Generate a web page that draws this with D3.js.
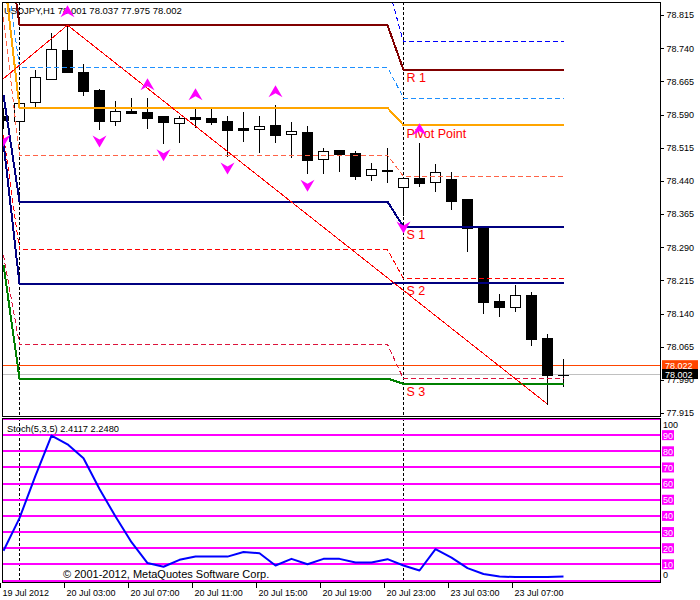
<!DOCTYPE html>
<html><head><meta charset="utf-8">
<script src="https://cdn.jsdelivr.net/npm/d3@7"></script>
<style>body{margin:0;background:#fff} text{font-family:"Liberation Sans",Arial,sans-serif}</style>
</head><body><svg id="c" width="700" height="600"></svg>
<script>
// ---------- DATA ----------
const times = ["19 Jul 23:00",
 "20 Jul 00:00","20 Jul 01:00","20 Jul 02:00","20 Jul 03:00","20 Jul 04:00","20 Jul 05:00","20 Jul 06:00","20 Jul 07:00",
 "20 Jul 08:00","20 Jul 09:00","20 Jul 10:00","20 Jul 11:00","20 Jul 12:00","20 Jul 13:00","20 Jul 14:00","20 Jul 15:00",
 "20 Jul 16:00","20 Jul 17:00","20 Jul 18:00","20 Jul 19:00","20 Jul 20:00","20 Jul 21:00","20 Jul 22:00","20 Jul 23:00",
 "23 Jul 00:00","23 Jul 01:00","23 Jul 02:00","23 Jul 03:00","23 Jul 04:00","23 Jul 05:00","23 Jul 06:00","23 Jul 07:00",
 "23 Jul 08:00","23 Jul 09:00","23 Jul 10:00"];
const open  = [78.587,78.576,78.619,78.671,78.736,78.686,78.645,78.576,78.599,78.596,78.587,78.571,78.584,78.581,78.575,78.559,78.558,78.566,78.545,78.550,78.489,78.510,78.502,78.453,78.465,78.426,78.446,78.437,78.444,78.399,78.333,78.168,78.154,78.182,78.085,78.001];
const high  = [78.605,78.623,78.691,78.774,78.792,78.704,78.648,78.621,78.627,78.627,78.587,78.587,78.604,78.602,78.587,78.595,78.587,78.611,78.574,78.564,78.514,78.510,78.507,78.480,78.514,78.446,78.525,78.478,78.461,78.400,78.335,78.184,78.204,78.189,78.094,78.037];
const low   = [78.559,78.555,78.608,78.671,78.685,78.635,78.557,78.566,78.593,78.560,78.526,78.528,78.562,78.568,78.496,78.531,78.505,78.528,78.495,78.457,78.458,78.463,78.444,78.443,78.438,78.363,78.428,78.416,78.376,78.282,78.142,78.135,78.146,78.069,77.935,77.975];
const close = [78.578,78.617,78.674,78.737,78.686,78.644,78.576,78.597,78.594,78.583,78.573,78.583,78.580,78.574,78.556,78.556,78.564,78.544,78.553,78.488,78.507,78.501,78.452,78.466,78.462,78.446,78.436,78.461,78.395,78.333,78.167,78.154,78.182,78.082,78.001,78.002];
const stoch = [18.4,38.6,65.0,89.7,84.3,75.7,56.7,39.6,23.7,10.8,8.5,12.8,14.8,14.8,14.8,17.6,16.9,9.3,13.4,10.1,13.4,13.4,11.1,11.1,13.2,9.3,6.2,19.4,14.2,7.7,4.0,2.5,2.1,2.1,2.1,2.4];

// daily pivot indicator levels (19 Jul, 20 Jul, 23 Jul)
const days = ["19 Jul","20 Jul","23 Jul"];
const levelR1     = [79.050,78.792,78.691];
const levelUpDash = [79.150,78.885,78.754];
const levelMidR   = [78.960,78.697,78.627];
const levelPivot  = [78.920,78.605,78.566];
const levelMidS   = [78.810,78.498,78.450];
const levelS1     = [78.634,78.393,78.336];
const levelRedDash= [78.544,78.284,78.219];
const levelS2     = [78.526,78.207,78.210];
const levelCrimDash=[78.272,78.070,77.992];
const levelS3     = [78.250,77.993,77.981];

const zigzagTimes = ["19 Jul 23:00","20 Jul 03:00","23 Jul 09:00"];
const zigzagPrices = [78.671,78.792,77.935];
const fractalUp = ["20 Jul 03:00","20 Jul 08:00","20 Jul 11:00","20 Jul 16:00","23 Jul 01:00"];
const fractalDown = ["19 Jul 23:00","20 Jul 05:00","20 Jul 09:00","20 Jul 13:00","20 Jul 18:00","23 Jul 00:00"];
const separators = ["20 Jul 00:00","23 Jul 00:00"];

const priceTicks = [77.915,77.990,78.065,78.140,78.215,78.290,78.365,78.440,78.515,78.590,78.665,78.740,78.815];
const timeLabelAt = ["19 Jul 23:00","20 Jul 03:00","20 Jul 07:00","20 Jul 11:00","20 Jul 15:00","20 Jul 19:00","20 Jul 23:00","23 Jul 03:00","23 Jul 07:00"];
const timeLabels = ["19 Jul 2012","20 Jul 03:00","20 Jul 07:00","20 Jul 11:00","20 Jul 15:00","20 Jul 19:00","20 Jul 23:00","23 Jul 03:00","23 Jul 07:00"];
const stochLevels = [0,10,20,30,40,50,60,70,80,90,100];
const askPrice = 78.022, bidPrice = 78.002;
const title = "USDJPY,H1 78.001 78.037 77.975 78.002";
const stochTitle = "Stoch(5,3,5) 2.4117 2.2480";

// ---------- DRAW ----------
const svg = d3.select("#c");
const L=2, R=660, mTop=2, mBot=416, sTop=418, sBot=582;
svg.append("rect").attr("width",700).attr("height",600).attr("fill","#fff");

const x = d3.scalePoint().domain(times).range([3.5, 563.5]);
const y = d3.scaleLinear().domain([77.915, 78.815]).range([413, 15]);
const ys = d3.scaleLinear().domain([0,100]).range([580.5, 419]);

const defs = svg.append("defs");
defs.append("clipPath").attr("id","cm").append("rect").attr("x",L).attr("y",mTop).attr("width",R-L).attr("height",mBot-mTop);
defs.append("clipPath").attr("id","cs").append("rect").attr("x",L).attr("y",sTop).attr("width",R-L).attr("height",sBot-sTop);

const gm = svg.append("g").attr("clip-path","url(#cm)");
const gs = svg.append("g").attr("clip-path","url(#cs)");

// title
gm.append("text").attr("x",4).attr("y",14).attr("font-size",9.5).text(title);

// bid / ask lines
gm.append("line").attr("x1",L).attr("x2",R).attr("y1",y(askPrice)).attr("y2",y(askPrice))
  .attr("stroke","#ff4500").attr("stroke-width",1).attr("shape-rendering","crispEdges");
gm.append("line").attr("x1",L).attr("x2",R).attr("y1",y(bidPrice)).attr("y2",y(bidPrice))
  .attr("stroke","#c0c0c0").attr("stroke-width",1).attr("shape-rendering","crispEdges");

// separators
[gm, gs].forEach((g,k)=>{
  g.selectAll(null).data(separators).join("line")
   .attr("x1",d=>x(d)).attr("x2",d=>x(d))
   .attr("y1",k?sTop:mTop).attr("y2",k?sBot:mBot)
   .attr("stroke","#000").attr("stroke-dasharray","3,2").attr("stroke-width",1);
});

// candles
const idx = d3.range(times.length);
const cg = gm.append("g").attr("shape-rendering","crispEdges");
cg.selectAll("line.w").data(idx).join("line").attr("class","w")
  .attr("x1",i=>x(times[i])).attr("x2",i=>x(times[i]))
  .attr("y1",i=>Math.round(y(high[i]))).attr("y2",i=>Math.round(y(low[i]))+1)
  .attr("stroke","#000");
cg.selectAll("rect.b").data(idx).join("rect").attr("class","b")
  .attr("x",i=>x(times[i])-5).attr("width",10)
  .attr("y",i=>Math.round(y(Math.max(open[i],close[i])))+0.5)
  .attr("height",i=>Math.max(0.01,Math.round(y(Math.min(open[i],close[i])))-Math.round(y(Math.max(open[i],close[i])))))
  .attr("fill",i=>close[i]>=open[i]?"#fff":"#000").attr("stroke","#000");

// pivot levels
const dayOf = t => days.indexOf(t.slice(0,6));
const levelDefs = [
  {v:levelUpDash, c:"#0000ff", w:1, dash:"5,3"},
  {v:levelMidR, c:"#1e90ff", w:1, dash:"5,3"},
  {v:levelMidS, c:"#ff6347", w:1, dash:"5,3"},
  {v:levelRedDash, c:"#ff0000", w:1, dash:"5,3"},
  {v:levelCrimDash, c:"#dc143c", w:1, dash:"5,3"},
  {v:levelR1, c:"#800000", w:2, label:"R 1"},
  {v:levelPivot, c:"#ffa500", w:2, label:"Pivot Point"},
  {v:levelS1, c:"#000080", w:2, label:"S 1"},
  {v:levelS2, c:"#000080", w:2, label:"S 2"},
  {v:levelS3, c:"#008000", w:2, label:"S 3"}
];
levelDefs.forEach(ld=>{
  const lg = d3.line().x(t=>x(t)).y(t=>y(ld.v[dayOf(t)]));
  gm.append("path").attr("d",lg(times)).attr("fill","none").attr("stroke",ld.c)
    .attr("stroke-width",ld.w).attr("stroke-dasharray",ld.dash||null).attr("shape-rendering","crispEdges");
});
levelDefs.filter(d=>d.label).forEach(ld=>{
  gm.append("text").attr("x",x("23 Jul 00:00")+3).attr("y",y(ld.v[2])+12.5)
    .attr("font-size",12.5).attr("fill","#ff0000").text(ld.label);
});

// zigzag
gm.append("path").attr("d",d3.line().x((d,i)=>x(zigzagTimes[i])).y(d=>y(d))(zigzagPrices))
  .attr("fill","none").attr("stroke","#ff0000").attr("stroke-width",1).attr("shape-rendering","crispEdges");
{
  const x0=x(zigzagTimes[0]), y0=y(zigzagPrices[0]), x1=x(zigzagTimes[1]), y1=y(zigzagPrices[1]);
  const s=(y1-y0)/(x1-x0);
  gm.append("line").attr("x1",x0-20).attr("y1",y0-20*s).attr("x2",x0).attr("y2",y0)
    .attr("stroke","#ff0000").attr("stroke-width",1).attr("shape-rendering","crispEdges");
}

// fractals
const upPath = "M0,-7L7,5L0,1L-7,5Z", dnPath = "M0,7L7,-5L0,-1L-7,-5Z";
gm.selectAll("path.fu").data(fractalUp).join("path").attr("class","fu")
  .attr("d",upPath).attr("fill","#ff00ff")
  .attr("transform",t=>`translate(${x(t)},${y(high[times.indexOf(t)])-13})`);
gm.selectAll("path.fd").data(fractalDown).join("path").attr("class","fd")
  .attr("d",dnPath).attr("fill","#ff00ff")
  .attr("transform",t=>`translate(${x(t)},${y(low[times.indexOf(t)])+11.5})`);

// ---- stochastic panel ----
gs.selectAll("line.lv").data(stochLevels).join("line").attr("class","lv")
  .attr("x1",L).attr("x2",R).attr("y1",d=>ys(d)).attr("y2",d=>ys(d))
  .attr("stroke","#ff00ff").attr("stroke-width",2).attr("shape-rendering","crispEdges");
gs.append("text").attr("x",7).attr("y",432).attr("font-size",9.3).text(stochTitle);
gs.append("path").attr("d",d3.line().x((d,i)=>x(times[i])).y(d=>ys(d))(stoch))
  .attr("fill","none").attr("stroke","#0000ff").attr("stroke-width",2).attr("stroke-linejoin","round");
svg.append("text").attr("x",63).attr("y",578).attr("font-size",11).text("\u00a9 2001-2012, MetaQuotes Software Corp.");

// borders
svg.append("rect").attr("x",L+0.5).attr("y",mTop+0.5).attr("width",R-L).attr("height",mBot-mTop)
  .attr("fill","none").attr("stroke","#000").attr("shape-rendering","crispEdges");
svg.append("rect").attr("x",L+0.5).attr("y",sTop+0.5).attr("width",R-L).attr("height",sBot-sTop)
  .attr("fill","none").attr("stroke","#000").attr("shape-rendering","crispEdges");

// price axis
const pa = svg.append("g").attr("transform",`translate(${R+0.5},0)`)
  .call(d3.axisRight(y).tickValues(priceTicks).tickSize(3).tickPadding(3).tickFormat(d3.format(".3f")));
pa.select(".domain").remove();
pa.selectAll("text").attr("font-size",9).attr("font-family","Liberation Sans, Arial, sans-serif").attr("fill","#000");
pa.selectAll("line").attr("stroke","#000").attr("shape-rendering","crispEdges");

// bid/ask labels
[[askPrice,"#ff4500"],[bidPrice,"#000"]].forEach(([p,c])=>{
  svg.append("rect").attr("x",662).attr("y",y(p)-5.5).attr("width",36).attr("height",10).attr("fill",c);
  svg.append("text").attr("x",665).attr("y",y(p)+3.5).attr("font-size",9).attr("fill","#fff").text(d3.format(".3f")(p));
});

// stochastic axis
stochLevels.forEach(v=>{
  if (v===100) { svg.append("text").attr("x",663).attr("y",ys(v)+9).attr("font-size",9).text(v); return; }
  if (v===0) { svg.append("text").attr("x",663).attr("y",ys(v)-2.5).attr("font-size",9).text(v); return; }
  svg.append("rect").attr("x",662).attr("y",ys(v)-5).attr("width",12).attr("height",10).attr("fill","#ff00ff");
  svg.append("text").attr("x",663).attr("y",ys(v)+3.5).attr("font-size",9).attr("fill","#fff").text(v);
});

// time axis
const ta = svg.append("g").attr("transform",`translate(-4,${sBot+0.5})`)
  .call(d3.axisBottom(x).tickValues(timeLabelAt).tickSize(5).tickPadding(2)
        .tickFormat(t=>timeLabels[timeLabelAt.indexOf(t)]));
ta.select(".domain").remove();
ta.selectAll("line").attr("stroke","#000").attr("shape-rendering","crispEdges");
ta.selectAll("text").attr("text-anchor","start").attr("dx",2.5).attr("font-size",9)
  .attr("font-family","Liberation Sans, Arial, sans-serif").attr("fill","#000");
</script></body></html>
